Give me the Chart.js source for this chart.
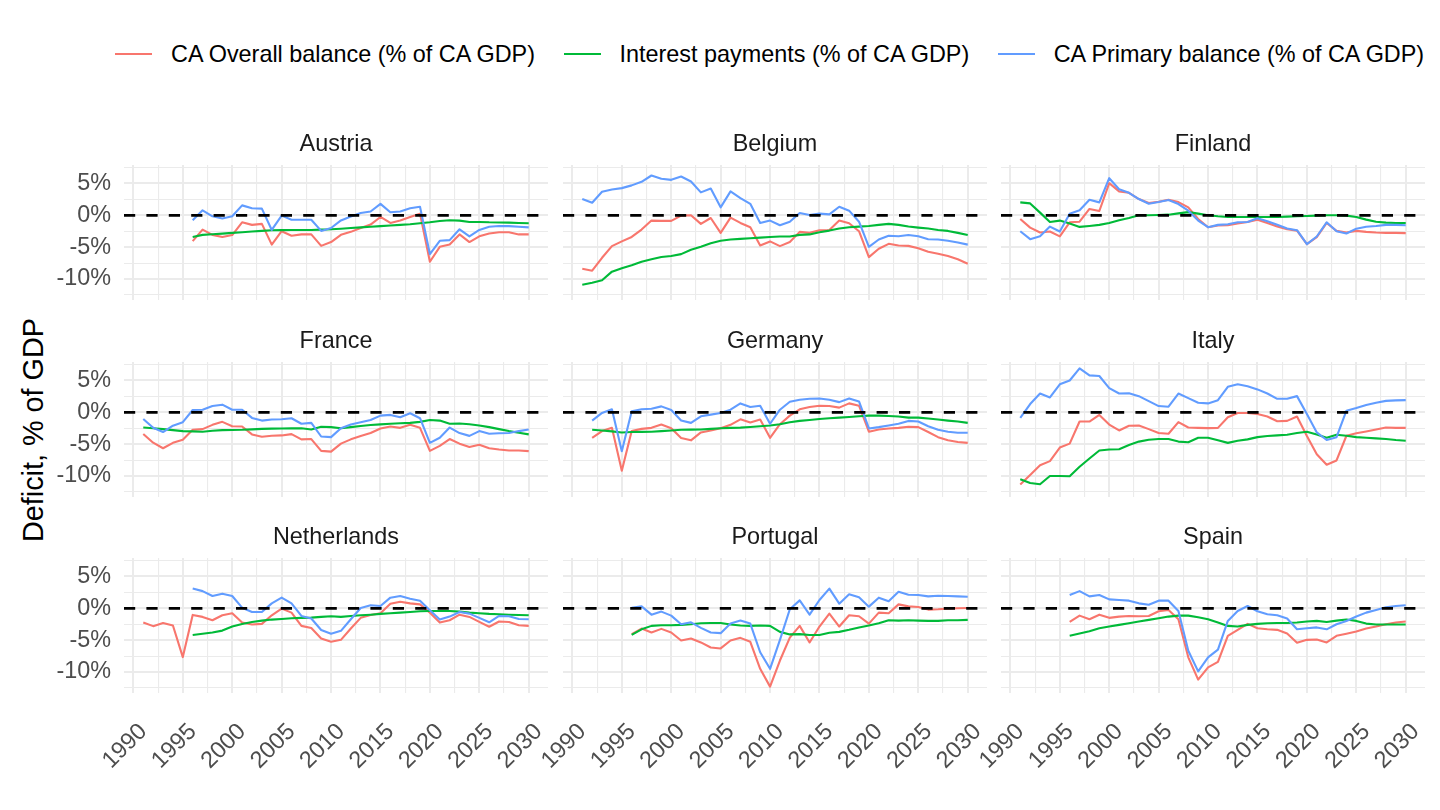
<!DOCTYPE html>
<html>
<head>
<meta charset="utf-8">
<title>Deficit, % of GDP</title>
<script src="https://cdn.jsdelivr.net/npm/chart.js@4.4.1/dist/chart.umd.min.js"></script>
<style>
  body { margin: 0; background: #fff; font-family: "Liberation Sans", Arial, sans-serif; }
  #page { position: relative; width: 1440px; height: 810px; overflow: hidden; background: #fff; }
  #page canvas { position: absolute; }
  #legend { position: absolute; left: 115px; top: 40px; display: flex; gap: 28.5px; font-size: 23.4px; line-height: 28px; color: #000; white-space: nowrap; }
  .item { display: flex; align-items: center; }
  .key { width: 37px; height: 2.4px; margin-right: 19px; }
  #ytitle { position: absolute; left: 33px; top: 430px; transform: translate(-50%, -50%) rotate(-90deg); font-size: 28.8px; color: #000; white-space: nowrap; }
</style>
</head>
<body>
<div id="page">
  <div id="legend"></div>
  <div id="ytitle">Deficit, % of GDP</div>
</div>
<script>
// Years on the x axis and the tick labels
const YEARS = [1991, 1992, 1993, 1994, 1995, 1996, 1997, 1998, 1999, 2000,
               2001, 2002, 2003, 2004, 2005, 2006, 2007, 2008, 2009, 2010,
               2011, 2012, 2013, 2014, 2015, 2016, 2017, 2018, 2019, 2020,
               2021, 2022, 2023, 2024, 2025, 2026, 2027, 2028, 2029, 2030];
const YEAR_TICKS = [1990, 1995, 2000, 2005, 2010, 2015, 2020, 2025, 2030];
const PCT_TICKS = [-10, -5, 0, 5];

const COUNTRIES = ["Austria", "Belgium", "Finland", "France", "Germany", "Italy", "Netherlands", "Portugal", "Spain"];
const SERIES_NAMES = ["CA Overall balance (% of CA GDP)", "Interest payments (% of CA GDP)", "CA Primary balance (% of CA GDP)"];
const COLORS = ["#F8766D", "#00BA38", "#619CFF"];

// Values, % of GDP, 1991-2030 (null = no data)
const AUSTRIA_OVERALL = [null, null, null, null, null, -4.06, -2.24, -3.07, -3.4, -3.1,
  -1.1, -1.5, -1.35, -4.6, -2.5, -3.2, -3.0, -3.0, -4.8, -4.2,
  -3.07, -2.6, -2.0, -1.46, -0.26, -1.2, -0.83, -0.26, 0.26, -7.3,
  -4.95, -4.6, -3.0, -4.2, -3.3, -2.86, -2.66, -2.66, -3.0, -3.0];
const AUSTRIA_INTEREST = [null, null, null, null, null, -3.4, -3.07, -2.97, -2.87, -2.76,
  -2.65, -2.55, -2.45, -2.34, -2.32, -2.3, -2.3, -2.3, -2.25, -2.2,
  -2.1, -2.0, -1.9, -1.8, -1.7, -1.6, -1.5, -1.4, -1.25, -1.1,
  -0.9, -0.78, -0.83, -1.04, -1.04, -1.1, -1.12, -1.15, -1.2, -1.25];
const AUSTRIA_PRIMARY = [null, null, null, null, null, -0.78, 0.78, -0.16, -0.5, -0.16,
  1.56, 1.1, 1.05, -2.3, -0.05, -0.7, -0.7, -0.7, -2.45, -2.0,
  -0.8, -0.2, 0.36, 0.6, 1.8, 0.47, 0.6, 1.1, 1.35, -6.1,
  -4.0, -3.9, -2.2, -3.3, -2.3, -1.8, -1.67, -1.7, -1.8, -1.9];

const BELGIUM_OVERALL = [-8.4, -8.7, -6.67, -4.84, -4.1, -3.4, -2.24, -0.83, -0.88, -0.88,
  -0.05, 0, -1.35, -0.42, -2.76, -0.36, -1.2, -1.87, -4.74, -4.1,
  -4.84, -4.2, -2.6, -2.76, -2.34, -2.3, -0.83, -1.25, -2.5, -6.56,
  -5.26, -4.48, -4.74, -4.8, -5.16, -5.73, -6.04, -6.4, -6.9, -7.6];
const BELGIUM_INTEREST = [-10.9, -10.6, -10.2, -8.85, -8.3, -7.86, -7.3, -6.9, -6.56, -6.4,
  -6.1, -5.4, -4.95, -4.4, -4.0, -3.8, -3.7, -3.6, -3.5, -3.4,
  -3.33, -3.33, -3.07, -3.0, -2.66, -2.4, -2.08, -1.87, -1.77, -1.67,
  -1.5, -1.35, -1.5, -1.77, -1.93, -2.08, -2.3, -2.45, -2.76, -3.1];
const BELGIUM_PRIMARY = [2.55, 1.98, 3.7, 4.06, 4.27, 4.7, 5.26, 6.25, 5.73, 5.57,
  6.1, 5.3, 3.6, 4.2, 1.25, 3.75, 2.7, 1.8, -1.2, -0.83,
  -1.56, -1.0, 0.36, 0.05, 0.26, 0.15, 1.35, 0.73, -1.0, -4.95,
  -3.8, -3.2, -3.3, -3.1, -3.3, -3.75, -3.8, -4.0, -4.27, -4.6];

const FINLAND_OVERALL = [-0.57, -1.93, -2.7, -2.55, -3.3, -1.1, -1.0, 1.0, 0.68, 5.05,
  3.75, 3.54, 2.55, 1.93, 2.14, 2.45, 2.08, 1.25, -0.57, -1.87,
  -1.6, -1.56, -1.3, -1.04, -0.68, -1.2, -1.77, -2.2, -2.4, -4.53,
  -3.44, -1.2, -2.45, -2.7, -2.45, -2.6, -2.7, -2.76, -2.76, -2.8];
const FINLAND_INTEREST = [2.03, 1.87, 0.42, -1.04, -0.83, -1.3, -1.82, -1.67, -1.5, -1.2,
  -0.78, -0.42, 0, 0, 0.05, 0.1, 0.3, 0.5, 0.26, 0,
  -0.15, -0.26, -0.26, -0.26, -0.26, -0.26, -0.26, -0.2, -0.15, -0.1,
  -0.05, 0, 0, -0.05, -0.26, -0.68, -1.0, -1.15, -1.2, -1.2];
const FINLAND_PRIMARY = [-2.5, -3.75, -3.3, -1.77, -2.55, 0.26, 0.78, 2.45, 2.03, 5.83,
  4.1, 3.54, 2.55, 1.82, 2.08, 2.4, 1.77, 0.73, -0.83, -1.87,
  -1.5, -1.4, -1.1, -1.04, -0.47, -0.94, -1.5, -2.08, -2.34, -4.53,
  -3.33, -1.1, -2.5, -2.86, -2.1, -1.8, -1.67, -1.5, -1.5, -1.56];

const FRANCE_OVERALL = [-3.4, -4.77, -5.65, -4.8, -4.3, -2.75, -2.64, -1.97, -1.5, -2.18,
  -2.23, -3.47, -3.83, -3.68, -3.63, -3.42, -4.25, -4.2, -6.06, -6.17,
  -4.92, -4.25, -3.73, -3.26, -2.54, -2.23, -2.44, -1.97, -2.44, -6.06,
  -5.28, -4.2, -4.92, -5.44, -5.08, -5.65, -5.85, -6.0, -6.0, -6.1];
const FRANCE_INTEREST = [-2.38, -2.5, -2.64, -2.8, -2.95, -3.0, -3.05, -2.9, -2.8, -2.78,
  -2.75, -2.68, -2.6, -2.57, -2.54, -2.52, -2.5, -2.7, -2.28, -2.33,
  -2.5, -2.33, -2.15, -2.0, -1.9, -1.8, -1.72, -1.66, -1.5, -1.2,
  -1.3, -1.8, -1.76, -1.87, -2.07, -2.33, -2.64, -2.95, -3.2, -3.47];
const FRANCE_PRIMARY = [-1.04, -2.43, -3.1, -2.1, -1.55, 0.36, 0.41, 0.98, 1.2, 0.41,
  0.41, -0.88, -1.3, -1.14, -1.1, -0.93, -1.8, -1.66, -3.8, -3.9,
  -2.5, -1.9, -1.55, -1.2, -0.52, -0.41, -0.78, -0.15, -0.93, -4.8,
  -4.0, -2.4, -3.26, -3.7, -2.95, -3.37, -3.3, -3.26, -2.95, -2.7];

const GERMANY_OVERALL = [null, -4.0, -2.95, -2.44, -9.17, -2.95, -2.6, -2.44, -1.92, -2.5,
  -4.04, -4.4, -3.16, -2.85, -2.5, -1.97, -1.1, -1.6, -1.14, -4.0,
  -1.87, -0.52, 0.47, 0.83, 1.04, 0.98, 0.73, 1.4, 1.04, -3.05,
  -2.7, -2.54, -2.44, -2.28, -2.33, -3.1, -3.9, -4.4, -4.66, -4.8];
const GERMANY_INTEREST = [null, -2.75, -2.85, -3.0, -3.16, -3.1, -3.08, -3.05, -2.95, -2.85,
  -2.75, -2.72, -2.7, -2.6, -2.5, -2.45, -2.4, -2.3, -2.18, -2.07,
  -1.87, -1.55, -1.35, -1.2, -1.04, -0.93, -0.83, -0.73, -0.62, -0.52,
  -0.52, -0.57, -0.67, -0.83, -0.83, -0.98, -1.14, -1.3, -1.45, -1.66];
const GERMANY_PRIMARY = [null, -1.3, -0.1, 0.47, -6.1, 0.15, 0.47, 0.57, 0.93, 0.36,
  -1.3, -1.66, -0.62, -0.36, -0.1, 0.41, 1.4, 0.83, 1.04, -1.8,
  0.41, 1.66, 1.97, 2.12, 2.18, 1.97, 1.6, 2.18, 1.7, -2.54,
  -2.33, -2.07, -1.8, -1.35, -1.45, -2.18, -2.75, -3.05, -3.2, -3.2];

const ITALY_OVERALL = [-11.35, -9.84, -8.3, -7.67, -5.54, -4.92, -1.45, -1.45, -0.41, -1.92,
  -2.85, -2.12, -2.07, -2.64, -3.26, -3.37, -1.55, -2.38, -2.44, -2.49,
  -2.44, -0.78, -0.1, -0.1, -0.26, -0.67, -1.4, -1.35, -0.67, -3.73,
  -6.58, -8.24, -7.56, -3.68, -3.3, -3.0, -2.7, -2.38, -2.44, -2.44];
const ITALY_INTEREST = [-10.5, -11.1, -11.3, -10.0, -10.0, -10.05, -8.55, -7.25, -6.0, -5.85,
  -5.8, -5.13, -4.6, -4.3, -4.2, -4.2, -4.6, -4.7, -4.0, -4.0,
  -4.4, -4.8, -4.46, -4.25, -3.9, -3.73, -3.63, -3.52, -3.26, -3.05,
  -3.47, -4.0, -3.52, -3.68, -3.9, -4.0, -4.1, -4.2, -4.35, -4.46];
const ITALY_PRIMARY = [-0.88, 1.3, 2.95, 2.33, 4.4, 5.0, 6.9, 5.8, 5.7, 3.8,
  2.95, 3.0, 2.54, 1.76, 0.98, 0.88, 2.95, 2.23, 1.5, 1.4,
  1.9, 4.0, 4.4, 4.1, 3.6, 2.95, 2.12, 2.12, 2.54, -0.26,
  -3.16, -4.35, -3.9, 0.26, 0.67, 1.14, 1.5, 1.8, 1.87, 1.92];

const NETHERLANDS_OVERALL = [-2.24, -2.8, -2.3, -2.7, -7.66, -1.04, -1.35, -1.87, -1.1, -0.78,
  -2.24, -2.55, -2.45, -1.1, -0.05, -0.68, -2.76, -3.1, -4.74, -5.26,
  -4.95, -3.18, -1.5, -1.04, -0.78, 0.73, 1.04, 0.78, 0.62, -0.68,
  -2.24, -1.87, -1.0, -1.35, -2.14, -2.9, -2.08, -2.14, -2.66, -2.76];
const NETHERLANDS_INTEREST = [null, null, null, null, null, -4.2, -4.0, -3.8, -3.5, -2.86,
  -2.45, -2.14, -1.93, -1.77, -1.67, -1.56, -1.5, -1.46, -1.35, -1.25,
  -1.35, -1.2, -1.1, -1.0, -0.88, -0.78, -0.68, -0.57, -0.47, -0.42,
  -0.42, -0.42, -0.52, -0.68, -0.78, -0.88, -0.94, -1.0, -1.04, -1.1];
const NETHERLANDS_PRIMARY = [null, null, null, null, null, 3.1, 2.7, 1.93, 2.3, 1.93,
  0.1, -0.57, -0.57, 0.78, 1.67, 0.78, -1.2, -1.6, -3.4, -4.0,
  -3.54, -1.72, 0.05, 0.47, 0.36, 1.67, 1.93, 1.5, 1.2, -0.31,
  -1.77, -1.3, -0.57, -0.83, -1.5, -2.2, -1.2, -1.25, -1.67, -1.72];

const PORTUGAL_OVERALL = [null, null, null, null, null, -4.06, -3.18, -3.8, -3.23, -3.8,
  -5.05, -4.74, -5.36, -6.15, -6.3, -5.05, -4.64, -5.26, -9.5, -12.3,
  -8.2, -4.6, -2.76, -5.36, -2.86, -0.83, -2.86, -1.1, -1.25, -2.4,
  -0.68, -0.78, 0.62, 0.3, 0.2, -0.2, -0.15, -0.05, 0, 0.05];
const PORTUGAL_INTEREST = [null, null, null, null, null, -4.16, -3.3, -2.76, -2.66, -2.66,
  -2.6, -2.5, -2.34, -2.3, -2.3, -2.55, -2.7, -2.76, -2.7, -2.76,
  -3.7, -4.1, -4.06, -4.2, -4.2, -3.85, -3.7, -3.38, -3.0, -2.7,
  -2.34, -1.87, -1.93, -1.87, -1.93, -1.98, -1.98, -1.87, -1.87, -1.82];
const PORTUGAL_PRIMARY = [null, null, null, null, null, 0.1, 0.3, -1.0, -0.52, -1.15,
  -2.5, -2.2, -3.07, -3.8, -3.9, -2.4, -1.93, -2.4, -6.9, -9.5,
  -4.95, -0.15, 1.25, -1.0, 1.3, 3.1, 0.73, 2.2, 1.72, 0.26,
  1.67, 1.1, 2.6, 2.14, 2.08, 1.87, 1.98, 1.93, 1.87, 1.82];

const SPAIN_OVERALL = [null, null, null, null, null, -2.14, -1.15, -1.72, -1.0, -1.5,
  -1.3, -1.2, -1.25, -1.2, -0.47, -0.26, -1.72, -7.7, -11.2, -9.27,
  -8.4, -4.32, -3.38, -2.45, -3.13, -3.3, -3.38, -3.96, -5.4, -4.95,
  -4.9, -5.36, -4.32, -4.0, -3.65, -3.18, -2.86, -2.5, -2.24, -2.08];
const SPAIN_INTEREST = [null, null, null, null, null, -4.32, -3.96, -3.6, -3.13, -2.86,
  -2.6, -2.34, -2.08, -1.82, -1.56, -1.3, -1.15, -1.15, -1.4, -1.72,
  -2.24, -2.76, -2.86, -2.6, -2.45, -2.34, -2.3, -2.3, -2.24, -2.08,
  -1.98, -2.14, -1.93, -1.77, -1.98, -2.4, -2.55, -2.55, -2.55, -2.55];
const SPAIN_PRIMARY = [null, null, null, null, null, 2.08, 2.7, 1.87, 2.08, 1.4,
  1.3, 1.2, 0.78, 0.57, 1.2, 1.2, -0.42, -6.67, -9.9, -7.7,
  -6.5, -1.98, -0.42, 0.36, -0.47, -0.94, -1.1, -1.6, -3.3, -3.13,
  -3.0, -3.3, -2.5, -1.98, -1.3, -0.68, -0.26, 0.15, 0.36, 0.47];

const PANEL_SERIES = {
  Austria: [AUSTRIA_OVERALL, AUSTRIA_INTEREST, AUSTRIA_PRIMARY],
  Belgium: [BELGIUM_OVERALL, BELGIUM_INTEREST, BELGIUM_PRIMARY],
  Finland: [FINLAND_OVERALL, FINLAND_INTEREST, FINLAND_PRIMARY],
  France: [FRANCE_OVERALL, FRANCE_INTEREST, FRANCE_PRIMARY],
  Germany: [GERMANY_OVERALL, GERMANY_INTEREST, GERMANY_PRIMARY],
  Italy: [ITALY_OVERALL, ITALY_INTEREST, ITALY_PRIMARY],
  Netherlands: [NETHERLANDS_OVERALL, NETHERLANDS_INTEREST, NETHERLANDS_PRIMARY],
  Portugal: [PORTUGAL_OVERALL, PORTUGAL_INTEREST, PORTUGAL_PRIMARY],
  Spain: [SPAIN_OVERALL, SPAIN_INTEREST, SPAIN_PRIMARY]
};

// Axis limits (ggplot adds 5% around the data) and panel geometry
const X_MIN = 1989.05, X_MAX = 2031.95;
const Y_MIN = -13.3, Y_MAX = 7.9;
const PLOT_W = 424, PLOT_H = 135, TITLE_H = 36;
const COL_X = [124, 563, 1001];
const ROW_Y = [165, 362, 558];
const GRID = "#EBEBEB";
const FONT_SIZE = 23.4;

Chart.defaults.font.family = '"Liberation Sans", Arial, sans-serif';
Chart.defaults.font.size = FONT_SIZE;

// major ticks plus the minor lines halfway between them
function withMinor(major, lo, hi) {
  const step = (major[1] - major[0]) / 2;
  const out = [];
  for (let v = major[0] - step; v <= major[major.length - 1] + step; v += step) {
    if (v >= lo && v <= hi) out.push(v);
  }
  return out;
}
const X_GRID = withMinor(YEAR_TICKS, X_MIN, X_MAX);
const Y_GRID = withMinor(PCT_TICKS, Y_MIN, Y_MAX);

// fixed axis sizes, no extra room for overhanging labels
function fixSize(s, size) {
  if (s.isHorizontal()) s.height = size; else s.width = size;
  s.paddingTop = s.paddingBottom = s.paddingLeft = s.paddingRight = 0;
}

// dashed line at 0
const zeroLine = {
  id: "zeroLine",
  afterDatasetsDraw(chart) {
    const { ctx, chartArea, scales } = chart;
    const y = scales.y.getPixelForValue(0);
    ctx.save();
    ctx.strokeStyle = "#000";
    ctx.lineWidth = 2.8;
    ctx.setLineDash([11.2, 11.2]);
    ctx.beginPath();
    ctx.moveTo(chartArea.left, y);
    ctx.lineTo(chartArea.right, y);
    ctx.stroke();
    ctx.restore();
  }
};

// Legend
const legend = document.getElementById("legend");
SERIES_NAMES.forEach((name, k) => {
  const item = document.createElement("div");
  item.className = "item";
  item.innerHTML = `<span class="key" style="background:${COLORS[k]}"></span><span>${name}</span>`;
  legend.appendChild(item);
});

function makePanel(i) {
  const col = i % 3, row = Math.floor(i / 3);
  const name = COUNTRIES[i];
  const showY = col === 0, showX = row === 2;
  const padL = showY ? 0 : 50, padR = 10;
  const yW = showY ? COL_X[0] : 0;
  const xH = showX ? 100 : 0;

  const canvas = document.createElement("canvas");
  canvas.width = padL + yW + PLOT_W + padR;
  canvas.height = TITLE_H + PLOT_H + xH;
  canvas.style.left = (COL_X[col] - padL - yW) + "px";
  canvas.style.top = (ROW_Y[row] - TITLE_H) + "px";
  document.getElementById("page").appendChild(canvas);

  const series = PANEL_SERIES[name];
  new Chart(canvas, {
    type: "line",
    data: {
      labels: YEARS,
      datasets: series.map((vals, k) => ({
        label: SERIES_NAMES[k],
        data: vals,
        borderColor: COLORS[k],
        borderWidth: 2.1,
        borderJoinStyle: "round",
        pointRadius: 0,
        tension: 0,
        order: 3 - k
      }))
    },
    options: {
      responsive: false,
      animation: false,
      layout: { padding: { left: padL, right: padR, top: 0, bottom: 0 }, autoPadding: false },
      plugins: {
        legend: { display: false },
        tooltip: { enabled: false },
        title: {
          display: true,
          text: name,
          fullSize: false,
          color: "#1A1A1A",
          font: { size: FONT_SIZE, weight: "normal", lineHeight: 1.2 },
          padding: { top: 2, bottom: TITLE_H - 2 - FONT_SIZE * 1.2 }
        }
      },
      scales: {
        x: {
          type: "linear",
          min: X_MIN,
          max: X_MAX,
          afterBuildTicks: s => { s.ticks = X_GRID.map(v => ({ value: v })); },
          afterFit: s => fixSize(s, xH),
          border: { display: false },
          grid: {
            color: GRID,
            drawTicks: false,
            lineWidth: c => YEAR_TICKS.includes(c.tick.value) ? 2 : 1.1
          },
          ticks: {
            display: showX,
            autoSkip: false,
            minRotation: 45,
            maxRotation: 45,
            padding: 25,
            labelOffset: 10,
            color: "#4D4D4D",
            callback: v => YEAR_TICKS.includes(v) ? String(v) : ""
          }
        },
        y: {
          min: Y_MIN,
          max: Y_MAX,
          afterBuildTicks: s => { s.ticks = Y_GRID.map(v => ({ value: v })); },
          afterFit: s => fixSize(s, yW),
          border: { display: false },
          grid: {
            color: GRID,
            drawTicks: false,
            lineWidth: c => PCT_TICKS.includes(c.tick.value) ? 2 : 1.1
          },
          ticks: {
            display: showY,
            autoSkip: false,
            padding: 13,
            color: "#4D4D4D",
            callback: v => PCT_TICKS.includes(v) ? v + "%" : ""
          }
        }
      }
    },
    plugins: [zeroLine]
  });
}

COUNTRIES.forEach((_, i) => makePanel(i));
</script>
</body>
</html>
